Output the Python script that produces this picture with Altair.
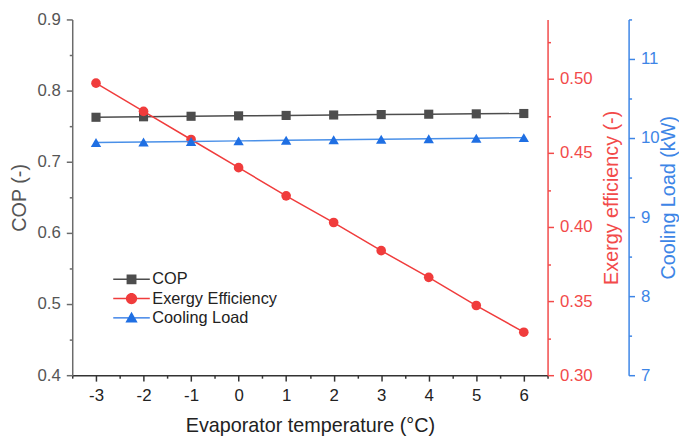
import altair as alt
import pandas as pd

# ---- data ----
temps = [-3, -2, -1, 0, 1, 2, 3, 4, 5, 6]
cop = [0.7625, 0.7632, 0.7639, 0.7645, 0.7651, 0.7657, 0.7663, 0.7668, 0.7673, 0.7678]
exergy = [0.497, 0.478, 0.459, 0.440, 0.421, 0.403, 0.384, 0.366, 0.347, 0.329]
cooling = [9.942, 9.950, 9.957, 9.964, 9.971, 9.977, 9.984, 9.991, 9.998, 10.005]
series = ["COP", "Exergy Efficiency", "Cooling Load"]

x_ticks = [-3.5, -3, -2.5, -2, -1.5, -1, -0.5, 0, 0.5, 1, 1.5, 2, 2.5, 3, 3.5, 4, 4.5, 5, 5.5, 6, 6.5]
cop_ticks = [0.4, 0.45, 0.5, 0.55, 0.6, 0.65, 0.7, 0.75, 0.8, 0.85, 0.9]
ex_ticks = [0.3, 0.325, 0.35, 0.375, 0.4, 0.425, 0.45, 0.475, 0.5, 0.525]
cl_ticks = [7, 7.5, 8, 8.5, 9, 9.5, 10, 10.5, 11, 11.5]

GRAY = "#4d4d4d"
GRAY_AX = "#6b6b6b"
RED = "#f03c3c"
RED_AX = "#f24a4a"
BLUE = "#1f6fe3"
BLUE_LINE = "#4a90e8"
BLUE_AX = "#3d85e6"
FONT = "Liberation Sans"

df = pd.DataFrame({"T": temps, "COP": cop, "Exergy": exergy, "Cooling": cooling})

x_enc = alt.X(
    "T:Q",
    scale=alt.Scale(domain=[-3.5, 6.5], nice=False, zero=False),
    axis=alt.Axis(
        values=x_ticks,
        title="Evaporator temperature (°C)",
        titleFontSize=20,
        titleColor="#222222",
        titleBaseline="middle",
        titleY=51,
        labelExpr="abs(datum.value - round(datum.value)) < 0.01 ? toString(round(datum.value)) : ''",
        labelFontSize=17,
        labelColor="#222222",
        labelPadding=7,
        domainColor="#333333",
        tickColor="#333333",
        tickSize={"condition": {"test": "abs(datum.value - round(datum.value)) > 0.01", "value": 3}, "value": 6},
    ),
)


def y_axis(title, values, color, label_color, orient, offset, title_x, test_minor, label_expr):
    return alt.Axis(
        values=values,
        title=title,
        orient=orient,
        offset=offset,
        titleFontSize=20,
        titleColor=label_color,
        titleAngle=270,
        titleBaseline="middle",
        titleAlign="center",
        titleX=title_x,
        titleY=180,
        labelExpr=label_expr,
        labelFontSize=17,
        labelColor=label_color,
        labelPadding=6,
        domainColor=color,
        tickColor=color,
        tickSize={"condition": {"test": test_minor, "value": 3}, "value": 6},
    )


base = alt.Chart(df)

cop_y = alt.Y(
    "COP:Q",
    scale=alt.Scale(domain=[0.4, 0.9], nice=False, zero=False),
    axis=y_axis("COP (-)", cop_ticks, GRAY_AX, "#555555", "left", 0, -53,
                "round(datum.value * 100) % 10 != 0",
                "round(datum.value * 100) % 10 == 0 ? format(datum.value, '.1f') : ''"),
)
ex_y = alt.Y(
    "Exergy:Q",
    scale=alt.Scale(domain=[0.30, 0.54], nice=False, zero=False),
    axis=y_axis("Exergy efficiency (-)", ex_ticks, RED_AX, RED_AX, "right", 0, 65,
                "round(datum.value * 1000) % 50 != 0",
                "round(datum.value * 1000) % 50 == 0 ? format(datum.value, '.2f') : ''"),
)
cl_y = alt.Y(
    "Cooling:Q",
    scale=alt.Scale(domain=[7, 11.5], nice=False, zero=False),
    axis=y_axis("Cooling Load (kW)", cl_ticks, BLUE_AX, BLUE_AX, "right", 82, 40,
                "round(datum.value * 10) % 10 != 0",
                "round(datum.value * 10) % 10 == 0 ? toString(round(datum.value)) : ''"),
)

cop_layer = alt.layer(
    base.mark_line(color=GRAY, strokeWidth=1.5).encode(x=x_enc, y=cop_y),
    base.mark_point(shape="square", filled=True, size=85, color=GRAY, opacity=1).encode(x=x_enc, y=cop_y),
)
ex_layer = alt.layer(
    base.mark_line(color=RED, strokeWidth=1.5).encode(x=x_enc, y=ex_y),
    base.mark_point(shape="circle", filled=True, size=95, color=RED, opacity=1).encode(x=x_enc, y=ex_y),
)
cl_layer = alt.layer(
    base.mark_line(color=BLUE_LINE, strokeWidth=1.5).encode(x=x_enc, y=cl_y),
    base.mark_point(shape="triangle-up", filled=True, size=110, color=BLUE, opacity=1).encode(x=x_enc, y=cl_y),
)

# legend symbols: line segment + marker (custom SVG paths)
LINE = "M-1.85,-0.075H1.85V0.075H-1.85Z "
sym_sq = LINE + "M-0.5,-0.5H0.5V0.5H-0.5Z"
sym_ci = LINE + "M-0.57,0A0.57,0.57,0,1,1,0.57,0A0.57,0.57,0,1,1,-0.57,0Z"
sym_tr = LINE + "M0,-0.62L0.62,0.46L-0.62,0.46Z"

legend = alt.Legend(
    title=None, orient="none", legendX=50, legendY=253,
    symbolSize=400, symbolStrokeWidth=0, symbolOpacity=1,
    labelFontSize=16.5, labelFont=FONT, labelColor="#222222", labelOffset=11,
    rowPadding=0.5, padding=0,
)
leg_df = pd.DataFrame({"series": series})
legend_layer = (
    alt.Chart(leg_df)
    .transform_filter("false")
    .mark_point(filled=True, opacity=1)
    .encode(
        color=alt.Color("series:N", scale=alt.Scale(domain=series, range=[GRAY, RED, BLUE]), legend=legend),
        shape=alt.Shape("series:N", scale=alt.Scale(domain=series, range=[sym_sq, sym_ci, sym_tr]), legend=legend),
    )
)

chart = (
    alt.layer(cop_layer, ex_layer, cl_layer, legend_layer)
    .resolve_scale(y="independent")
    .properties(
        width=481,
        height=360,
        padding={"left": 65, "top": 9, "right": 133, "bottom": 63},
        autosize=alt.AutoSizeParams(type="none"),
    )
    .configure_view(stroke=None)
    .configure_axis(
        grid=False,
        labelFont=FONT,
        titleFont=FONT,
        titleFontWeight="normal",
        domainWidth=1.5,
        tickWidth=1.5,
    )
)

chart.save("out.html", embed_options={"renderer": "svg", "actions": False})
